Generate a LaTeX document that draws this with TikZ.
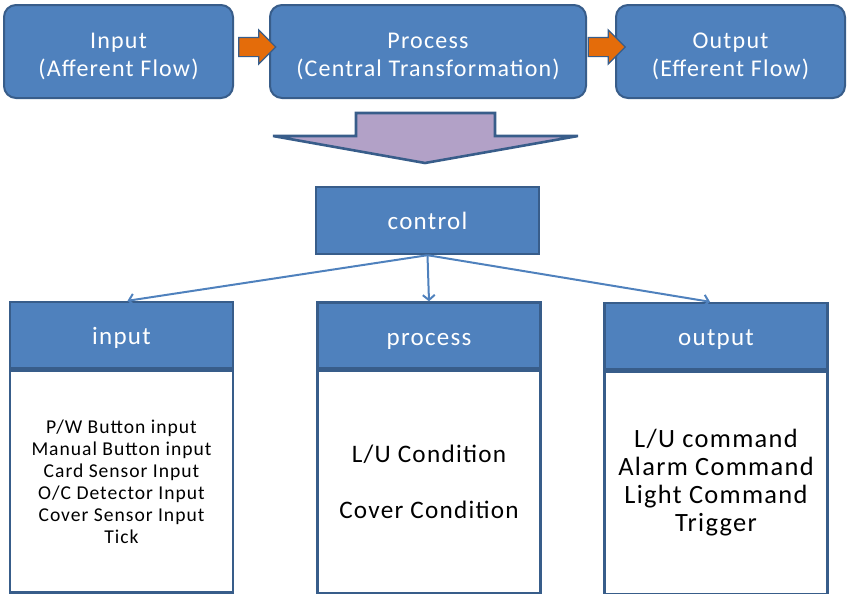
\documentclass[tikz,border=0pt]{standalone}
\usepackage{fontspec}
\setmainfont{Carlito}[LetterSpace=5]
\usepackage{tikz}
\usetikzlibrary{shapes.arrows, positioning, arrows.meta}
\definecolor{BoxBlue}{RGB}{79,129,189}
\definecolor{EdgeBlue}{RGB}{56,93,138}
\definecolor{FlowOrange}{RGB}{228,108,10}
\definecolor{LiftPurple}{RGB}{178,161,199}

\begin{document}
\begin{tikzpicture}[x=0.5pt, y=-0.5pt,
          stage/.style={rectangle, rounded corners=6pt, fill=BoxBlue, draw=EdgeBlue,
                        line width=1pt, text=white, align=center, minimum height=46.5pt,
                        font=\fontsize{12}{14}\selectfont},
          head/.style={rectangle, fill=BoxBlue, draw=EdgeBlue, line width=1.2pt,
                       text=white, minimum width=111.5pt, minimum height=33pt,
                       text height=11pt, text depth=1.5pt,
                       font=\fontsize{12.5}{14}\selectfont},
          body/.style={rectangle, fill=white, draw=EdgeBlue, line width=1.2pt,
                       align=center, minimum width=111.5pt, minimum height=111pt},
          flow/.style={single arrow, fill=FlowOrange, draw=EdgeBlue, line width=0.6pt,
                       inner xsep=0pt, inner ysep=4.5pt, minimum height=18.5pt,
                       single arrow head extend=3.75pt},
          link/.style={draw=BoxBlue, line width=1pt, -{Straight Barb[length=2.5pt,width=6pt]}}
        ]
        \useasboundingbox (0,0) rectangle (847,594);

        % top row
        \node[stage, minimum width=114.5pt] (inStage)  at (118.5, 51.5)
              {\rule{0pt}{13pt}Input\\(Afferent Flow)};
        \node[stage, minimum width=158pt]   (prStage)  at (428, 51.5)
              {\rule{0pt}{13pt}Process\\(Central Transformation)};
        \node[stage, minimum width=114.5pt] (outStage) at (730.5, 51.5)
              {\rule{0pt}{13pt}Output\\(Efferent Flow)};
        \node[flow] (flowA) at (252.5, 47) {};
        \node[flow] (flowB) at (602, 47) {};

        % big arrow down
        \draw[fill=LiftPurple, draw=EdgeBlue, line width=1.3pt]
              (356,113) -- (495,113) -- (495,136) -- (578,136) -- (425,163)
              -- (273,136) -- (356,136) -- cycle;

        \node[rectangle, fill=BoxBlue, draw=EdgeBlue, line width=1.2pt, text=white,
              minimum width=111.5pt, minimum height=33.5pt,
              font=\fontsize{12.5}{14}\selectfont] (ctrl) at (427.5, 220.5) {control};

        % three columns
        \node[head] (inHead)  at (121.5, 335) {input};
        \node[head] (prHead)  at (429, 335.5) {process};
        \node[head] (outHead) at (716, 336) {output};
        \node[body, below=0pt of inHead, font=\fontsize{9.8}{11}\selectfont] (inBody)
              {P/W Button input\\Manual Button input\\Card Sensor Input\\
               O/C Detector Input\\Cover Sensor Input\\Tick};
        \node[body, below=0pt of prHead, font=\fontsize{12.6}{28}\selectfont] (prBody)
              {L/U Condition\\Cover Condition};
        \node[body, below=0pt of outHead, minimum height=111.5pt,
              font=\fontsize{13.2}{14}\selectfont] (outBody)
              {L/U command\\Alarm Command\\Light Command\\Trigger};

        \draw[link] (ctrl.south) -- ([xshift=3pt]inHead.north);
        \draw[link] (ctrl.south) -- (prHead.north);
        \draw[link] (ctrl.south) -- ([xshift=-3pt]outHead.north);
      \end{tikzpicture}
\end{document}
